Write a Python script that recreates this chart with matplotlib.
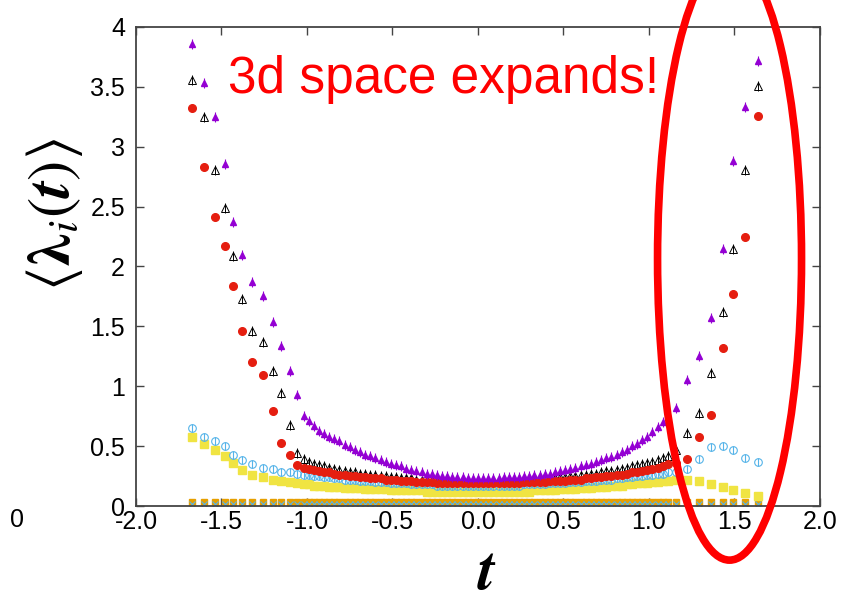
import matplotlib
matplotlib.use("Agg")
import matplotlib.pyplot as plt
from matplotlib.patches import Ellipse

# time slices (sparse at the edges, dense in the middle)
t = [
    -1.67, -1.60, -1.54, -1.48, -1.43, -1.38, -1.32, -1.26, -1.20, -1.15, -1.10, -1.06,
    -1.02, -0.99, -0.96, -0.93, -0.90, -0.87, -0.84, -0.81, -0.78, -0.75,
    -0.72, -0.69, -0.66, -0.63, -0.60, -0.57, -0.54, -0.51, -0.48, -0.45,
    -0.42, -0.39, -0.36, -0.33, -0.30, -0.27, -0.24, -0.21, -0.18, -0.15,
    -0.12, -0.09, -0.06, -0.03, 0.00, 0.03, 0.06, 0.09, 0.12, 0.15,
    0.18, 0.21, 0.24, 0.27, 0.30, 0.33, 0.36, 0.39, 0.42, 0.45,
    0.48, 0.51, 0.54, 0.57, 0.60, 0.63, 0.66, 0.69, 0.72, 0.75,
    0.78, 0.81, 0.84, 0.87, 0.90, 0.93, 0.96, 0.99, 1.02, 1.05,
    1.08, 1.11,
    1.16, 1.22, 1.29, 1.36, 1.43, 1.49, 1.56, 1.64,
]

# eigenvalues <lambda_i(t)>, largest first
lam1 = [
    3.86, 3.53, 3.25, 2.86, 2.37, 2.10, 1.87, 1.75, 1.54, 1.34, 1.13, 0.93,
    0.75, 0.71, 0.67, 0.63, 0.60, 0.58, 0.56, 0.54, 0.51, 0.49,
    0.47, 0.45, 0.43, 0.42, 0.40, 0.38, 0.37, 0.35, 0.34, 0.33,
    0.31, 0.30, 0.29, 0.28, 0.27, 0.27, 0.26, 0.25, 0.25, 0.24,
    0.24, 0.24, 0.23, 0.23, 0.23, 0.23, 0.23, 0.23, 0.23, 0.24,
    0.24, 0.24, 0.24, 0.25, 0.25, 0.26, 0.26, 0.27, 0.27, 0.28,
    0.29, 0.30, 0.31, 0.32, 0.33, 0.34, 0.35, 0.37, 0.38, 0.40,
    0.41, 0.43, 0.45, 0.47, 0.50, 0.52, 0.55, 0.58, 0.62, 0.66,
    0.70, 0.75,
    0.82, 1.05, 1.25, 1.57, 2.15, 2.88, 3.33, 3.72,
]
lam2 = [
    3.56, 3.25, 2.81, 2.49, 2.09, 1.73, 1.46, 1.37, 1.13, 0.94, 0.68, 0.44,
    0.39, 0.37, 0.35, 0.34, 0.33, 0.32, 0.31, 0.30, 0.29, 0.28,
    0.28, 0.27, 0.27, 0.26, 0.26, 0.25, 0.25, 0.24, 0.24, 0.23,
    0.23, 0.23, 0.22, 0.22, 0.22, 0.22, 0.21, 0.21, 0.21, 0.21,
    0.21, 0.21, 0.21, 0.21, 0.21, 0.21, 0.21, 0.21, 0.21, 0.21,
    0.21, 0.21, 0.22, 0.22, 0.22, 0.22, 0.22, 0.23, 0.23, 0.23,
    0.24, 0.24, 0.25, 0.25, 0.26, 0.26, 0.27, 0.27, 0.28, 0.29,
    0.29, 0.30, 0.31, 0.32, 0.33, 0.34, 0.35, 0.36, 0.37, 0.38,
    0.40, 0.42,
    0.47, 0.61, 0.78, 1.11, 1.62, 2.15, 2.81, 3.51,
]
lam3 = [
    3.32, 2.83, 2.41, 2.17, 1.84, 1.46, 1.20, 1.09, 0.79, 0.53, 0.43, 0.34,
    0.32, 0.31, 0.30, 0.29, 0.28, 0.28, 0.27, 0.26, 0.26, 0.25,
    0.25, 0.24, 0.24, 0.23, 0.23, 0.23, 0.22, 0.22, 0.22, 0.21,
    0.21, 0.21, 0.20, 0.20, 0.20, 0.20, 0.19, 0.19, 0.19, 0.19,
    0.19, 0.19, 0.19, 0.19, 0.19, 0.19, 0.19, 0.19, 0.19, 0.19,
    0.19, 0.19, 0.19, 0.20, 0.20, 0.20, 0.20, 0.20, 0.21, 0.21,
    0.21, 0.21, 0.22, 0.22, 0.22, 0.23, 0.23, 0.24, 0.24, 0.25,
    0.25, 0.26, 0.26, 0.27, 0.28, 0.28, 0.29, 0.30, 0.31, 0.32,
    0.33, 0.35,
    0.36, 0.39, 0.58, 0.76, 1.32, 1.77, 2.25, 3.26,
]
lam4 = [
    0.65, 0.58, 0.54, 0.50, 0.43, 0.38, 0.35, 0.32, 0.31, 0.28, 0.28, 0.27,
    0.26, 0.26, 0.25, 0.25, 0.24, 0.24, 0.23, 0.23, 0.22, 0.22,
    0.22, 0.21, 0.21, 0.21, 0.20, 0.20, 0.20, 0.19, 0.19, 0.19,
    0.19, 0.18, 0.18, 0.18, 0.18, 0.18, 0.17, 0.17, 0.17, 0.17,
    0.17, 0.17, 0.17, 0.17, 0.17, 0.17, 0.17, 0.17, 0.17, 0.17,
    0.17, 0.17, 0.17, 0.18, 0.18, 0.18, 0.18, 0.18, 0.19, 0.19,
    0.19, 0.19, 0.20, 0.20, 0.20, 0.21, 0.21, 0.21, 0.22, 0.22,
    0.22, 0.23, 0.23, 0.24, 0.24, 0.25, 0.25, 0.26, 0.26, 0.27,
    0.27, 0.28,
    0.28, 0.31, 0.39, 0.49, 0.50, 0.47, 0.40, 0.37,
]
lam5 = [
    0.58, 0.52, 0.47, 0.42, 0.36, 0.30, 0.26, 0.24, 0.22, 0.21, 0.20, 0.19,
    0.18, 0.18, 0.17, 0.17, 0.17, 0.16, 0.16, 0.16, 0.15, 0.15,
    0.15, 0.15, 0.14, 0.14, 0.14, 0.14, 0.14, 0.13, 0.13, 0.13,
    0.13, 0.13, 0.13, 0.13, 0.12, 0.12, 0.12, 0.12, 0.12, 0.12,
    0.12, 0.12, 0.12, 0.12, 0.12, 0.12, 0.12, 0.12, 0.12, 0.12,
    0.12, 0.12, 0.12, 0.12, 0.12, 0.13, 0.13, 0.13, 0.13, 0.13,
    0.14, 0.14, 0.14, 0.14, 0.15, 0.15, 0.15, 0.16, 0.16, 0.16,
    0.17, 0.17, 0.17, 0.18, 0.18, 0.19, 0.19, 0.19, 0.20, 0.20,
    0.21, 0.21,
    0.22, 0.22, 0.21, 0.18, 0.16, 0.13, 0.11, 0.08,
]
# remaining small eigenvalues stay close to zero
lam_small_a = [
    0.03, 0.03, 0.03, 0.03, 0.03, 0.03, 0.03, 0.03, 0.03, 0.03, 0.03, 0.03,
    0.03, 0.03, 0.03, 0.03, 0.03, 0.03, 0.03, 0.03, 0.03, 0.03,
    0.03, 0.03, 0.03, 0.03, 0.03, 0.03, 0.03, 0.03, 0.03, 0.03,
    0.03, 0.03, 0.03, 0.03, 0.03, 0.03, 0.03, 0.03, 0.03, 0.03,
    0.03, 0.03, 0.03, 0.03, 0.03, 0.03, 0.03, 0.03, 0.03, 0.03,
    0.03, 0.03, 0.03, 0.03, 0.03, 0.03, 0.03, 0.03, 0.03, 0.03,
    0.03, 0.03, 0.03, 0.03, 0.03, 0.03, 0.03, 0.03, 0.03, 0.03,
    0.03, 0.03, 0.03, 0.03, 0.03, 0.03, 0.03, 0.03, 0.03, 0.03,
    0.03, 0.03,
    0.03, 0.03, 0.03, 0.03, 0.03, 0.03, 0.03, 0.03,
]
lam_small_b = [
    0.02, 0.02, 0.02, 0.02, 0.02, 0.02, 0.02, 0.02, 0.02, 0.02, 0.02, 0.02,
    0.02, 0.02, 0.02, 0.02, 0.02, 0.02, 0.02, 0.02, 0.02, 0.02,
    0.02, 0.02, 0.02, 0.02, 0.02, 0.02, 0.02, 0.02, 0.02, 0.02,
    0.02, 0.02, 0.02, 0.02, 0.02, 0.02, 0.02, 0.02, 0.02, 0.02,
    0.02, 0.02, 0.02, 0.02, 0.02, 0.02, 0.02, 0.02, 0.02, 0.02,
    0.02, 0.02, 0.02, 0.02, 0.02, 0.02, 0.02, 0.02, 0.02, 0.02,
    0.02, 0.02, 0.02, 0.02, 0.02, 0.02, 0.02, 0.02, 0.02, 0.02,
    0.02, 0.02, 0.02, 0.02, 0.02, 0.02, 0.02, 0.02, 0.02, 0.02,
    0.02, 0.02,
    0.02, 0.02, 0.02, 0.02, 0.02, 0.02, 0.02, 0.02,
]

xticks = [-2.0, -1.5, -1.0, -0.5, 0.0, 0.5, 1.0, 1.5, 2.0]
xticklabels = ["-2.0", "-1.5", "-1.0", "-0.5", "0.0", "0.5", "1.0", "1.5", "2.0"]
yticks = [0, 0.5, 1, 1.5, 2, 2.5, 3, 3.5, 4]
yticklabels = ["0", "0.5", "1", "1.5", "2", "2.5", "3", "3.5", "4"]

plt.rcParams["font.family"] = ["Liberation Sans", "DejaVu Sans"]
plt.rcParams["mathtext.fontset"] = "cm"

W, H = 845, 602
fig = plt.figure(figsize=(W / 100, H / 100), dpi=100)
ax = fig.add_axes([136 / W, 1 - 506 / H, (820 - 136) / W, (506 - 27) / H])

ax.plot(t, lam_small_a, ls="none", marker="s", ms=4.5, color="#E69F00")
ax.plot(t, lam_small_b, ls="none", marker="x", ms=4, mew=0.8, color="#56B4E9")
ax.plot(t, lam5, ls="none", marker="s", ms=6, color="#F0E442")
ax.plot(t, lam4, ls="none", marker="o", ms=5.5, mfc="none", mec="#56B4E9", mew=0.8)
ax.plot(t, lam4, ls="none", marker="|", ms=5.5, color="#56B4E9", mew=0.8)
ax.plot(t, lam2, ls="none", marker="^", ms=5.5, mfc="none", mec="black", mew=0.7)
ax.plot(t, lam2, ls="none", marker="|", ms=7, color="black", mew=0.7)
ax.plot(t, lam3, ls="none", marker="o", ms=5.5, color="#E51E10")
ax.plot(t, lam1, ls="none", marker="^", ms=5, color="#9400D3")
ax.plot(t, lam1, ls="none", marker="|", ms=6.5, color="#9400D3", mew=0.8)

ax.set_xlim(-2, 2)
ax.set_ylim(0, 4)
ax.set_xticks(xticks)
ax.set_xticklabels(xticklabels)
ax.set_yticks(yticks)
ax.set_yticklabels(yticklabels)
ax.tick_params(direction="in", length=6, width=1, top=True, right=True,
               labelsize=18, color="#444444")
ax.tick_params(axis="x", pad=3)
ax.tick_params(axis="y", pad=8)
for s in ax.spines.values():
    s.set_linewidth(1.3)
    s.set_color("#444444")

# highlight the late-time region; the ellipse runs past the top edge
ax.add_patch(Ellipse((1.471, 2.063), 0.842, 5.03, fill=False, ec="#FF0000",
                     lw=5.5, clip_on=False, zorder=10))

fig.text(228 / W, 1 - 93 / H, "3d space expands!", color="#FF0000",
         fontsize=37, va="baseline", ha="left")
fig.text(55 / W, 1 - 215 / H,
         r"$\langle \boldsymbol{\lambda}_i(\boldsymbol{t}) \rangle$",
         rotation=90, fontsize=44, ha="center", va="center",
         math_fontfamily="stix")
fig.text(487 / W, 1 - 575 / H, r"$\boldsymbol{t}$", fontsize=44,
         ha="center", va="center")
fig.text(10 / W, 1 - 520 / H, "0", fontsize=18, ha="left", va="center")

fig.savefig("out.png", dpi=100)
